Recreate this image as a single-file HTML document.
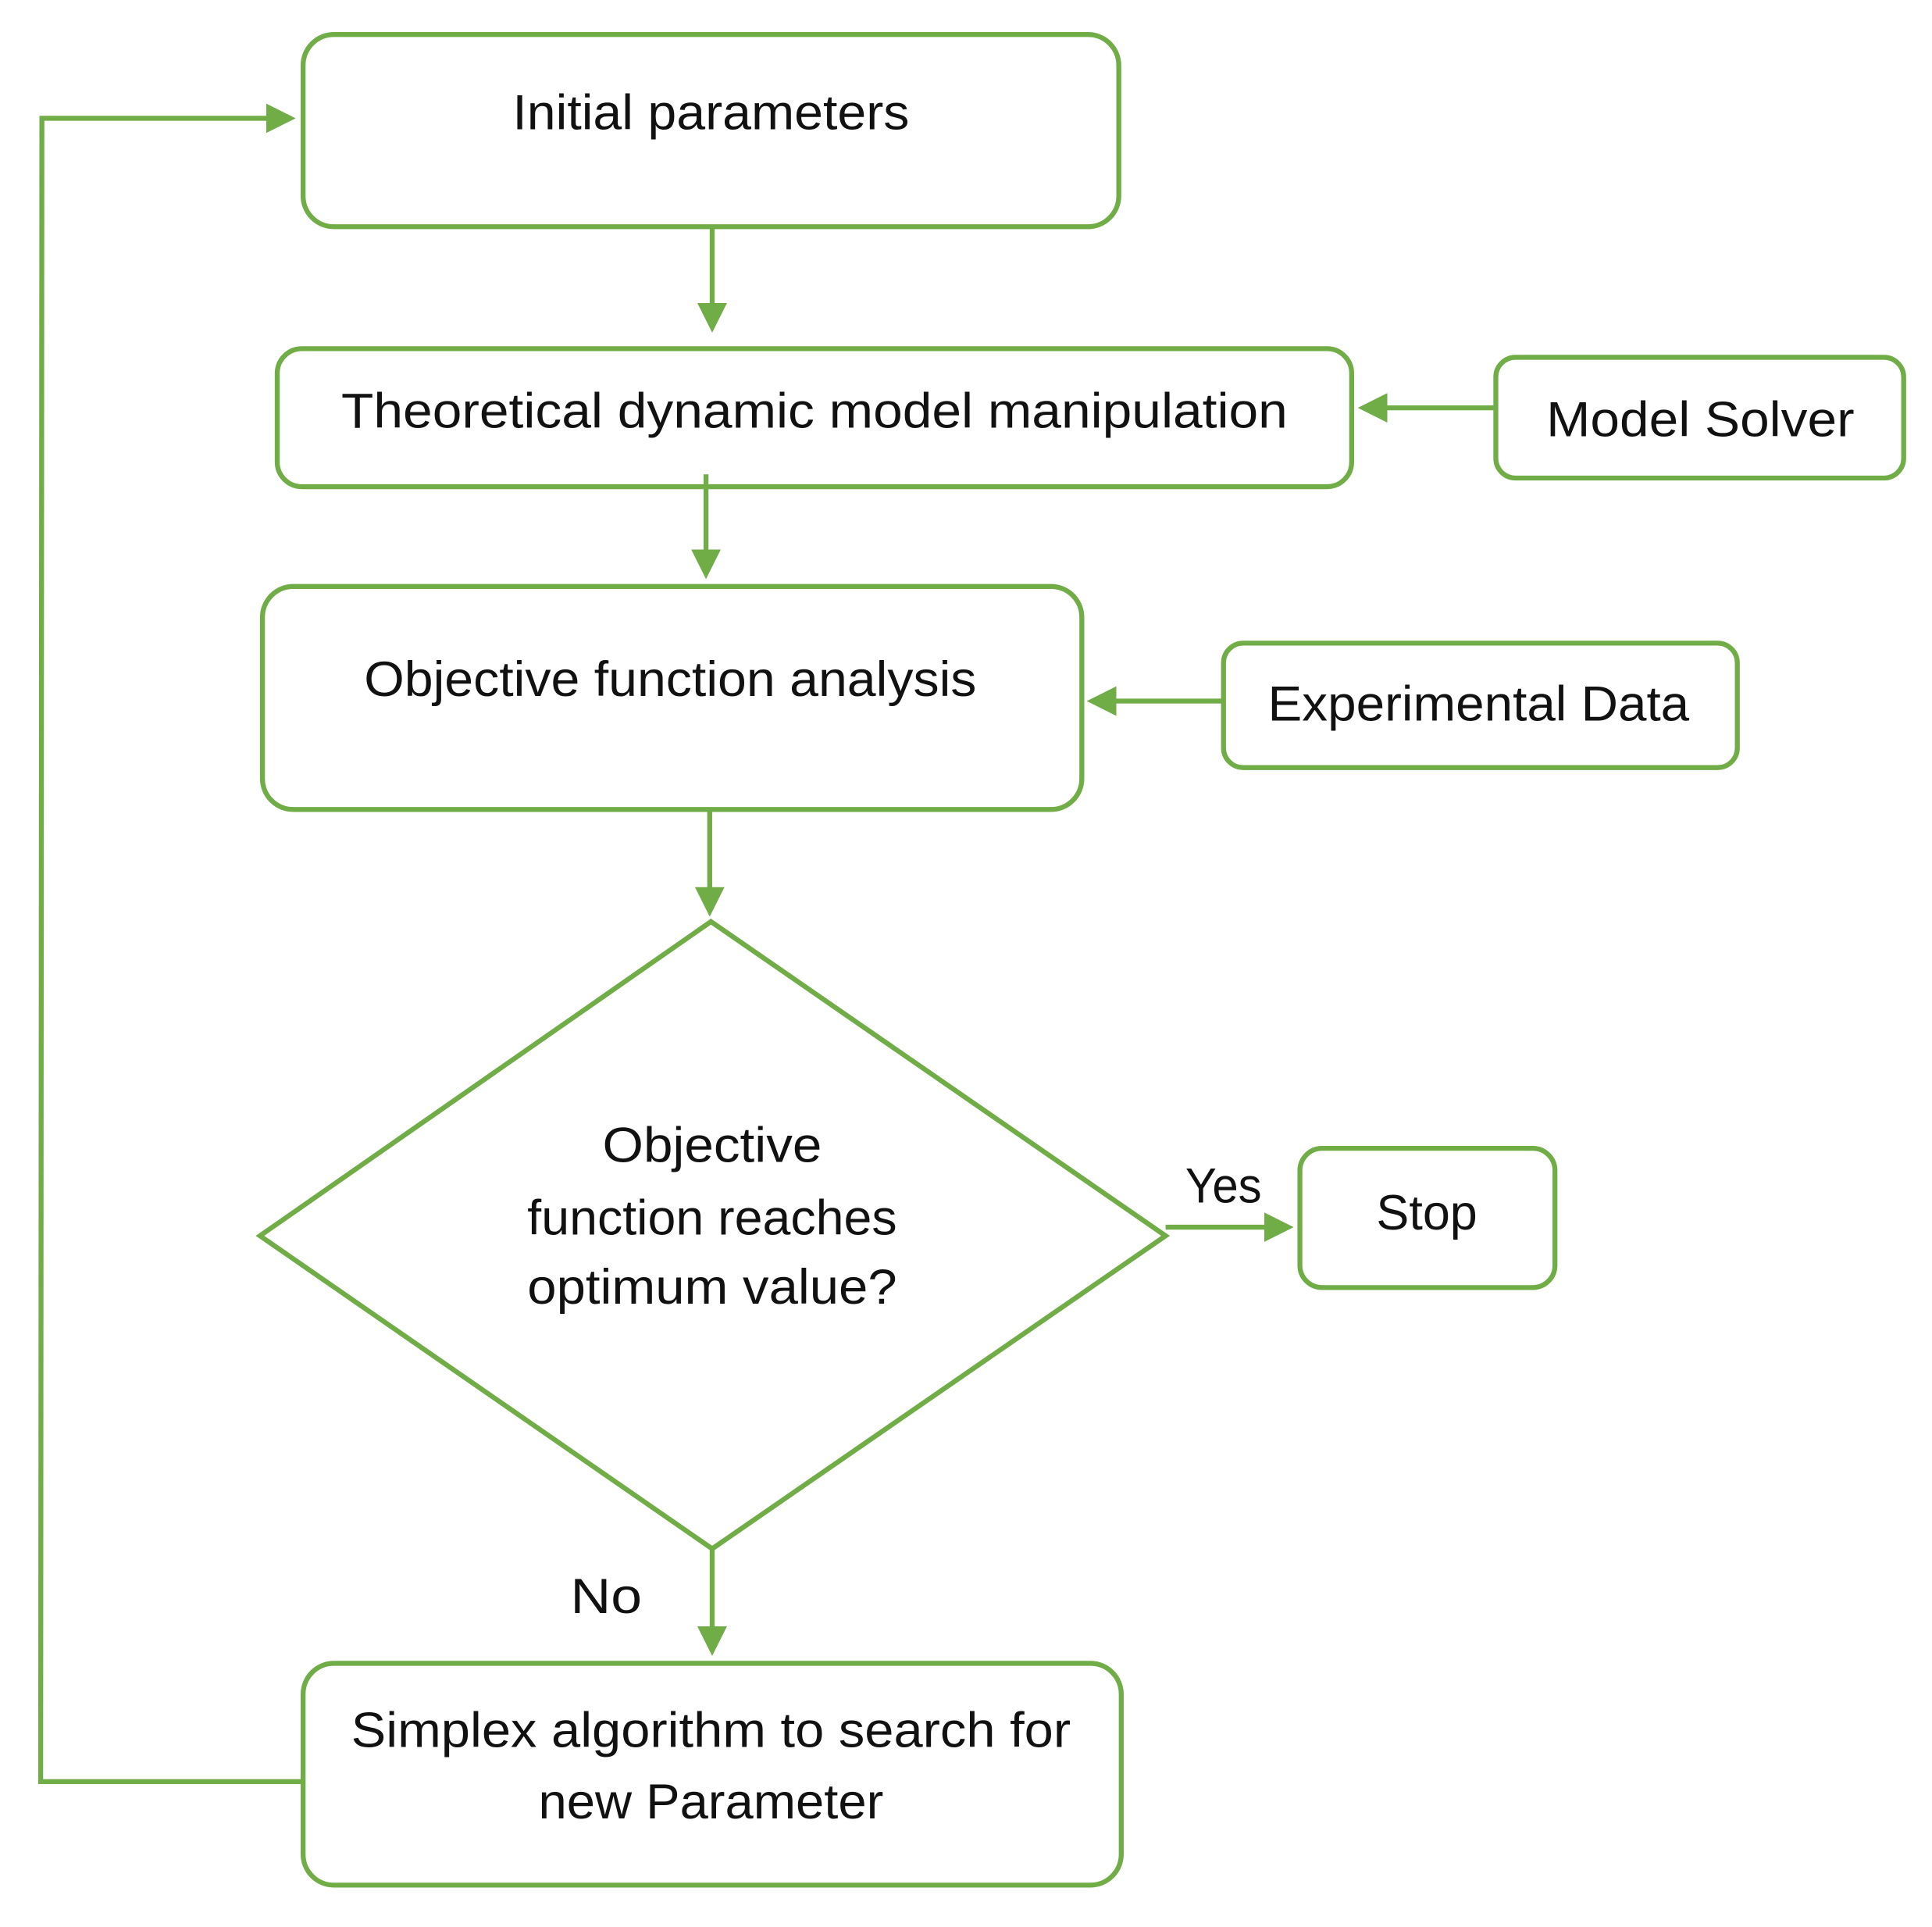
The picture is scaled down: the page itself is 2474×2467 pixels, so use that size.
<!DOCTYPE html>
<html><head><meta charset="utf-8"><style>
html,body{margin:0;padding:0;background:#fff;}
svg{display:block;}
text{font-family:"Liberation Sans",sans-serif;font-size:40px;fill:#111;}
</style></head><body>
<svg width="2474" height="2467" viewBox="0 0 1568 1564" preserveAspectRatio="none" xmlns="http://www.w3.org/2000/svg">
<defs>
<marker id="a" markerWidth="6" markerHeight="6" refX="5" refY="3" orient="auto" markerUnits="strokeWidth">
<path d="M0,0 L6,3 L0,6 z" fill="#70ad47"/>
</marker>
</defs>
<g fill="none" stroke="#70ad47" stroke-width="4">
<rect x="246" y="28" width="662" height="156" rx="25"/>
<rect x="225" y="283" width="872" height="112" rx="20"/>
<rect x="1214" y="290" width="331" height="98" rx="16"/>
<rect x="213" y="476" width="665" height="181" rx="25"/>
<rect x="993" y="522" width="417" height="101" rx="16"/>
<polygon points="577,748 946,1003 578,1257 211,1003"/>
<rect x="1055" y="932" width="207" height="113" rx="18"/>
<rect x="246" y="1350" width="664" height="180" rx="25"/>
<line x1="578" y1="184" x2="578" y2="266" marker-end="url(#a)"/>
<line x1="1214" y1="331" x2="1106" y2="331" marker-end="url(#a)"/>
<line x1="573" y1="385" x2="573" y2="466" marker-end="url(#a)"/>
<line x1="993" y1="569" x2="886" y2="569" marker-end="url(#a)"/>
<line x1="576" y1="657" x2="576" y2="740" marker-end="url(#a)"/>
<line x1="946" y1="996" x2="1046" y2="996" marker-end="url(#a)"/>
<line x1="578" y1="1257" x2="578" y2="1340" marker-end="url(#a)"/>
<polyline points="246,1446 33,1446 34,96 236,96" marker-end="url(#a)"/>
</g>
<g text-anchor="middle">
<text x="577" y="105" textLength="322" lengthAdjust="spacingAndGlyphs">Initial parameters</text>
<text x="661" y="347" textLength="768" lengthAdjust="spacingAndGlyphs">Theoretical dynamic model manipulation</text>
<text x="1380" y="354" textLength="250" lengthAdjust="spacingAndGlyphs">Model Solver</text>
<text x="544" y="565" textLength="497" lengthAdjust="spacingAndGlyphs">Objective function analysis</text>
<text x="1200" y="585" textLength="342" lengthAdjust="spacingAndGlyphs">Experimental Data</text>
<text x="578" y="943" textLength="178" lengthAdjust="spacingAndGlyphs">Objective</text>
<text x="578" y="1002" textLength="300" lengthAdjust="spacingAndGlyphs">function reaches</text>
<text x="578" y="1058" textLength="300" lengthAdjust="spacingAndGlyphs">optimum value?</text>
<text x="993" y="976" textLength="62" lengthAdjust="spacingAndGlyphs">Yes</text>
<text x="1158" y="998" textLength="82" lengthAdjust="spacingAndGlyphs">Stop</text>
<text x="492" y="1309" textLength="58" lengthAdjust="spacingAndGlyphs">No</text>
<text x="577" y="1418" textLength="584" lengthAdjust="spacingAndGlyphs">Simplex algorithm to search for</text>
<text x="577" y="1476" textLength="280" lengthAdjust="spacingAndGlyphs">new Parameter</text>
</g>
</svg>
</body></html>
